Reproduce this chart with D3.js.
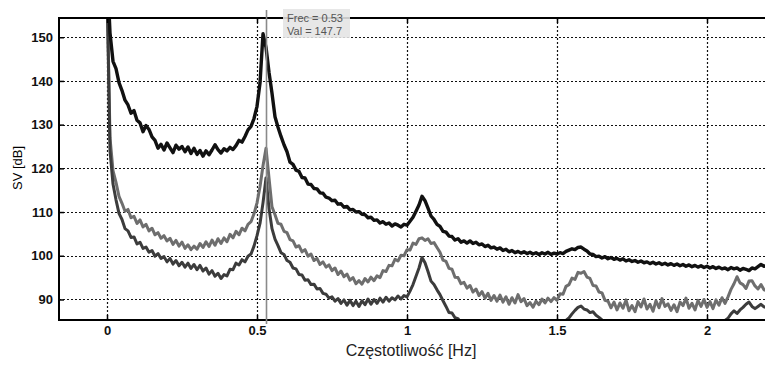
<!DOCTYPE html>
<html>
<head>
<meta charset="utf-8">
<script src="https://cdn.jsdelivr.net/npm/d3@7/dist/d3.min.js"></script>
<style>
  html, body { margin: 0; padding: 0; background: #fff; }
  svg { display: block; }
  .tick text { font-family: "Liberation Sans", Arial, sans-serif; font-weight: bold; font-size: 13px; fill: #111; }
</style>
</head>
<body>
<svg id="chart" width="765" height="365"></svg>
<script>
// Spectrum sampled every 0.01 Hz from 0 to 2.20 Hz
const freqStep = 0.01;
const sampleCount = 221;

// Singular values [dB] for the three measurement channels
const svFirst = [
  166, 151, 144.5, 142.8, 139.6, 137.8, 135.6, 134.5, 132.6, 133.2,
  131.0, 130.4, 128.4, 129.8, 128.9, 127.2, 126.4, 124.6, 125.5, 124.2,
  125.8, 124.7, 123.6, 125.3, 124.4, 125.0, 123.8, 124.9, 123.4, 124.6,
  123.2, 124.1, 122.8, 124.0, 123.1, 124.2, 125.4, 124.3, 123.5, 124.5,
  124.0, 124.8, 124.3, 125.2, 126.4, 126.0, 127.3, 128.8, 129.6, 131.4,
  134.2, 139.5, 150.8, 147.7, 142.0, 137.2, 131.8, 129.4, 127.3, 125.4,
  123.8, 121.4, 120.9, 119.6, 119.3, 117.9, 117.8, 116.4, 116.3, 115.4,
  115.3, 114.4, 114.3, 113.4, 113.2, 112.6, 112.7, 111.8, 111.9, 111.1,
  111.3, 110.5, 110.6, 110.0, 110.1, 109.5, 109.4, 108.7, 108.8, 108.1,
  108.2, 107.5, 107.8, 107.2, 107.5, 106.8, 107.3, 107.0, 106.6, 107.2,
  107.0, 107.9, 108.8, 110.2, 111.6, 113.6, 112.6, 110.9, 109.1, 108.3,
  107.2, 106.7, 105.6, 105.4, 104.5, 104.4, 103.6, 103.9, 103.1, 103.4,
  102.9, 103.4, 102.8, 103.1, 102.5, 102.7, 102.1, 102.4, 101.8, 102.0,
  101.5, 101.8, 101.2, 101.5, 100.9, 101.2, 100.7, 101.0, 100.6, 100.9,
  100.5, 100.8, 100.4, 100.7, 100.3, 100.7, 100.4, 100.8, 100.3, 100.6,
  100.4, 100.7, 100.5, 101.0, 101.3, 101.6, 101.4, 101.9, 102.0, 101.5,
  101.1, 100.4, 100.3, 99.8, 99.9, 99.5, 99.8, 99.3, 99.6, 99.2,
  99.4, 99.0, 99.3, 98.8, 99.1, 98.7, 98.9, 98.5, 98.8, 98.4,
  98.6, 98.2, 98.5, 98.1, 98.4, 98.0, 98.3, 97.9, 98.2, 97.8,
  98.1, 97.7, 98.0, 97.6, 97.9, 97.5, 97.8, 97.4, 97.7, 97.3,
  97.6, 97.2, 97.5, 97.1, 97.4, 97.0, 97.2, 96.8, 97.3, 97.0,
  97.2, 96.7, 97.1, 96.9, 96.6, 97.2, 97.0, 97.5, 98.0, 97.6, 97.8
];

const svSecond = [
  163, 127, 119.5, 116.8, 113.6, 112.0, 110.2, 110.6, 108.7, 109.0,
  107.4, 108.2, 106.6, 107.2, 105.7, 106.3, 104.8, 105.3, 104.0, 104.6,
  103.4, 104.0, 102.6, 103.5, 102.2, 103.1, 101.7, 102.5, 101.4, 102.2,
  101.5, 102.8, 101.9, 103.2, 102.1, 103.6, 102.4, 103.9, 102.8, 104.1,
  103.2, 104.9, 104.1, 105.6, 104.8, 106.3, 105.7, 107.2, 107.8, 109.6,
  112.1, 115.8, 120.6, 124.6, 117.8, 111.2, 109.4, 107.4, 107.2, 105.6,
  105.3, 103.7, 103.4, 102.0, 102.3, 100.9, 101.4, 99.9, 100.4, 98.9,
  99.4, 98.0, 98.6, 97.4, 97.9, 96.6, 97.2, 95.7, 96.5, 95.2,
  95.8, 94.4, 95.0, 93.6, 94.3, 93.5, 94.8, 94.0, 95.1, 94.3,
  95.4, 95.0, 96.6, 96.4, 97.8, 97.7, 99.2, 98.8, 100.1, 100.0,
  101.4, 101.3, 102.9, 102.6, 103.9, 104.1, 103.5, 103.9, 102.8, 103.0,
  101.9, 100.8, 99.0, 98.7, 97.1, 96.9, 95.1, 95.0, 93.6, 93.9,
  92.6, 93.2, 91.7, 92.4, 90.9, 91.8, 90.3, 91.4, 89.8, 90.9,
  89.6, 91.0, 89.4, 90.6, 88.9, 90.4, 89.2, 91.1, 89.5, 90.2,
  88.6, 89.3, 88.2, 89.6, 88.8, 90.1, 89.2, 90.3, 89.5, 90.4,
  89.8, 91.3, 91.2, 93.0, 93.4, 94.9, 94.6, 96.2, 96.0, 96.4,
  95.1, 94.8, 93.2, 93.1, 91.7, 91.5, 89.8, 89.6, 88.1, 89.4,
  87.6, 89.2, 88.0, 89.9, 87.4, 88.6, 87.2, 89.5, 88.3, 90.1,
  87.8, 88.9, 87.3, 89.7, 88.1, 90.2, 88.4, 89.0, 87.5, 88.8,
  87.2, 89.4, 88.6, 90.3, 88.0, 89.1, 87.6, 89.8, 88.4, 90.0,
  88.2, 89.5, 87.9, 89.9, 88.7, 90.4, 89.1, 90.6, 92.3, 93.6,
  95.2, 93.8, 93.4, 92.5, 94.2, 94.3, 93.1, 92.4, 93.4, 92.2, 92.0
];

const svThird = [
  162, 124, 116.4, 112.8, 109.7, 108.3, 106.2, 105.7, 104.2, 104.3,
  102.7, 103.1, 101.7, 102.0, 100.8, 101.2, 99.9, 100.5, 99.4, 99.8,
  98.6, 99.4, 98.1, 98.9, 97.7, 98.5, 97.4, 98.3, 97.1, 98.0,
  96.8, 97.8, 96.5, 97.2, 95.8, 96.6, 95.3, 96.0, 94.8, 95.7,
  95.4, 96.9, 96.8, 98.3, 97.9, 99.1, 98.6, 99.9, 100.4, 102.2,
  104.6, 107.4, 112.1, 117.8, 110.8, 106.2, 103.8, 102.3, 100.7, 100.3,
  98.9, 98.5, 97.2, 97.0, 95.7, 95.6, 94.4, 94.5, 93.4, 93.5,
  92.4, 92.5, 91.4, 91.2, 90.3, 90.6, 89.6, 90.2, 89.1, 89.9,
  88.7, 89.8, 88.6, 89.6, 88.4, 89.7, 88.8, 90.1, 88.9, 90.0,
  89.1, 90.3, 89.4, 90.5, 89.6, 90.4, 89.9, 90.8, 90.1, 90.9,
  90.6, 91.9, 93.4, 95.3, 97.2, 99.6, 98.4, 96.4, 94.2, 93.4,
  92.2, 91.1, 89.7, 88.4, 87.0, 86.9, 85.8, 85.6, 84.6, 84.8,
  84.2, 84.6, 83.9, 84.5, 83.8, 84.6, 84.0, 84.4, 83.7, 84.3,
  83.8, 84.5, 83.9, 84.6, 84.0, 84.5, 83.8, 84.4, 84.0, 84.6,
  83.9, 84.5, 84.1, 84.7, 84.0, 84.6, 84.2, 84.8, 84.3, 84.9,
  84.5, 84.9, 84.6, 85.2, 85.8, 86.7, 87.5, 88.2, 88.5, 87.8,
  87.6, 87.0, 87.2, 86.4, 85.9, 85.3, 84.8, 84.3, 84.6, 84.0,
  84.4, 83.9, 84.5, 84.0, 84.3, 83.8, 84.4, 84.1, 84.6, 84.0,
  84.3, 83.9, 84.5, 84.0, 84.4, 83.8, 84.3, 84.0, 84.5, 84.1,
  84.4, 83.9, 84.6, 84.1, 84.5, 84.0, 84.4, 84.2, 84.7, 84.3,
  84.6, 84.2, 84.8, 84.5, 85.0, 84.7, 85.2, 85.7, 86.7, 87.4,
  86.8, 87.6, 88.2, 88.9, 89.4, 88.4, 87.9, 88.4, 88.9, 88.3, 88.1
];

const xTicks = [0, 0.5, 1, 1.5, 2];
const xTickLabels = ["0", "0.5", "1", "1.5", "2"];
const yTicks = [90, 100, 110, 120, 130, 140, 150];
const yTickLabels = ["90", "100", "110", "120", "130", "140", "150"];

const seriesList = [
  { name: "sv2", values: svSecond, color: "#6e6e6e", width: 3.0 },
  { name: "sv3", values: svThird,  color: "#3c3c3c", width: 3.0 },
  { name: "sv1", values: svFirst,  color: "#111111", width: 3.4 }
];

// Data cursor position
const cursorIndex = 53;

const svg = d3.select("#chart");
const plot = { left: 59, top: 18, right: 767, bottom: 320 };

const x = d3.scaleLinear().domain([-0.16, 2.2]).range([plot.left, plot.right]);
const y = d3.scaleLinear().domain([85.3, 154.4]).range([plot.bottom, plot.top]);

const freqs = d3.range(sampleCount).map(i => +(i * freqStep).toFixed(2));

svg.append("defs").append("clipPath").attr("id", "plotClip")
  .append("rect")
  .attr("x", plot.left).attr("y", plot.top)
  .attr("width", plot.right - plot.left).attr("height", plot.bottom - plot.top);

// Dotted grid
const grid = svg.append("g").attr("class", "grid")
  .attr("stroke", "#111").attr("stroke-width", 1.2).attr("stroke-dasharray", "2,2");
grid.selectAll("line.h").data(yTicks).join("line").attr("class", "h")
  .attr("x1", plot.left).attr("x2", plot.right)
  .attr("y1", d => Math.round(y(d)) + 0.5).attr("y2", d => Math.round(y(d)) + 0.5);
grid.selectAll("line.v").data(xTicks).join("line").attr("class", "v")
  .attr("y1", plot.top).attr("y2", plot.bottom)
  .attr("x1", d => Math.round(x(d)) + 0.5).attr("x2", d => Math.round(x(d)) + 0.5);

// Series
const line = d3.line()
  .x((d, i) => x(freqs[i]))
  .y(d => y(d));

const lines = svg.append("g").attr("clip-path", "url(#plotClip)");
lines.selectAll("path").data(seriesList).join("path")
  .attr("fill", "none")
  .attr("stroke", d => d.color)
  .attr("stroke-width", d => d.width)
  .attr("stroke-linejoin", "round")
  .attr("d", d => line(d.values));

// Axes with inward ticks
const xAxis = d3.axisBottom(x).tickValues(xTicks)
  .tickFormat((d, i) => xTickLabels[i]).tickSize(-5).tickPadding(6);
const gx = svg.append("g").attr("transform", `translate(0,${plot.bottom})`).call(xAxis);
gx.select(".domain").remove();
gx.selectAll(".tick line").attr("stroke", "#000").attr("stroke-width", 1.5);

const xTop = d3.axisTop(x).tickValues(xTicks).tickFormat("").tickSize(-5);
const gxt = svg.append("g").attr("transform", `translate(0,${plot.top})`).call(xTop);
gxt.select(".domain").remove();
gxt.selectAll(".tick line").attr("stroke", "#000").attr("stroke-width", 1.5);

const yAxis = d3.axisLeft(y).tickValues(yTicks)
  .tickFormat((d, i) => yTickLabels[i]).tickSize(-5).tickPadding(6);
const gy = svg.append("g").attr("transform", `translate(${plot.left},0)`).call(yAxis);
gy.select(".domain").remove();
gy.selectAll(".tick line").attr("stroke", "#000").attr("stroke-width", 1.5);

// Frame
svg.append("rect")
  .attr("x", plot.left).attr("y", plot.top)
  .attr("width", plot.right - plot.left).attr("height", plot.bottom - plot.top)
  .attr("fill", "none").attr("stroke", "#000").attr("stroke-width", 2);

// Axis titles
svg.append("text")
  .attr("x", 411).attr("y", 356)
  .attr("text-anchor", "middle")
  .attr("font-family", "Liberation Sans, Arial, sans-serif")
  .attr("font-size", 16).attr("fill", "#222")
  .text("Częstotliwość [Hz]");

svg.append("text")
  .attr("transform", "translate(22,168) rotate(-90)")
  .attr("text-anchor", "middle")
  .attr("font-family", "Liberation Sans, Arial, sans-serif")
  .attr("font-size", 13).attr("fill", "#000")
  .text("SV [dB]");

// Data cursor
const cf = freqs[cursorIndex];
const cv = svFirst[cursorIndex];
svg.append("line")
  .attr("x1", x(cf) + 0.5).attr("x2", x(cf) + 0.5)
  .attr("y1", 10).attr("y2", 324)
  .attr("stroke", "#8a8a8a").attr("stroke-width", 1.6);

const tip = svg.append("g").attr("transform", `translate(${x(cf) + 17},9)`);
tip.append("rect")
  .attr("width", 67).attr("height", 29)
  .attr("fill", "#e4e4e4").attr("opacity", 0.88);
tip.append("text").attr("x", 4).attr("y", 13)
  .attr("font-family", "Liberation Sans, Arial, sans-serif")
  .attr("font-size", 11).attr("fill", "#555")
  .text(`Frec = ${cf.toFixed(2)}`);
tip.append("text").attr("x", 4).attr("y", 26)
  .attr("font-family", "Liberation Sans, Arial, sans-serif")
  .attr("font-size", 11).attr("fill", "#555")
  .text(`Val = ${cv.toFixed(1)}`);
</script>
</body>
</html>
